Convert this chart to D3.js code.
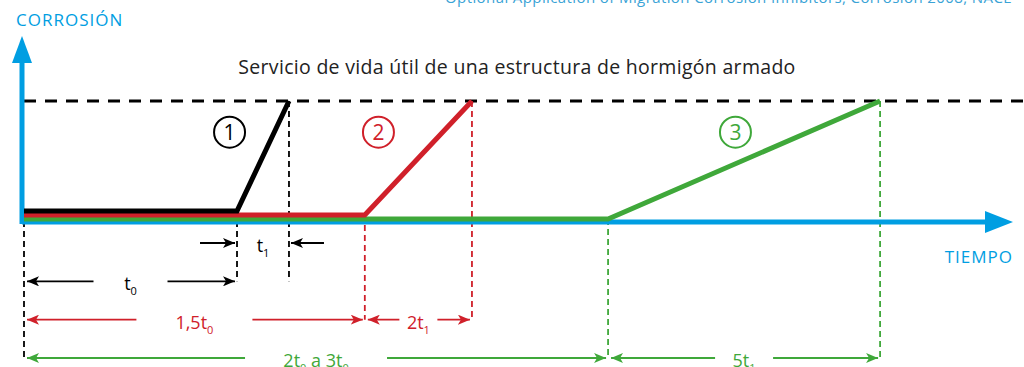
<!DOCTYPE html>
<html>
<head>
<meta charset="utf-8">
<script src="https://cdn.jsdelivr.net/npm/d3@7"></script>
<style>
  body { margin: 0; background: #fff; }
  svg { display: block; font-family: "Open Sans", "Noto Sans", sans-serif; }
</style>
</head>
<body>
<div id="chart"></div>
<script>
// data (time in arbitrary units, t0 = 10)
let seriesNames = ["1", "2", "3"];
let seriesColors = ["#000000", "#d0202a", "#3fa83a"];
let onsetTimes = [10, 16, 27.42];      // corrosion starts
let limitTimes = [12.44, 21.03, 40.19]; // corrosion reaches limit
let badgeTimes = [9.65, 16.64, 33.4];
let badgeLevel = 0.74;
let limitLevel = 1;

// dimension annotations
let dimFrom = [10, 0, 0, 16, 0, 27.42];
let dimTo = [12.44, 10, 16, 21.03, 27.42, 40.19];
let dimLabels = [["t", "1"], ["t", "0"], ["1,5t", "0"], ["2t", "1"], ["2t", "0", " a 3t", "0"], ["5t", "1"]];
let dimRow = [0, 1, 2, 2, 3, 3];
let dimColor = [0, 0, 1, 1, 2, 2];
let dimGap = [0, 37, 58, 19, 71, 29];

let titleText = "Servicio de vida útil de una estructura de hormigón armado";
let sourceText = "Optional Application of Migration Corrosion Inhibitors, Corrosion 2008, NACE";

let blue = "#009ee2";
let w = 1024, h = 367;

let svg = d3.select("#chart").append("svg")
  .attr("width", w)
  .attr("height", h)
  .attr("viewBox", "0 0 " + w + " " + h);

let x = d3.scaleLinear().domain([0, 46.43]).range([24, 1013]);
let y = d3.scaleLinear().domain([0, 1]).range([221, 101]);
let rowY = d3.scaleLinear().domain([0, 3]).range([243, 358]);

// stacking offsets for the flat part of each line
let flatOffset = [10, 6, 2];

// arrow markers
let defs = svg.append("defs");
seriesColors.forEach((c, i) => {
  defs.append("marker")
    .attr("id", "arr" + i)
    .attr("viewBox", "0 0 12 10")
    .attr("refX", 12)
    .attr("refY", 5)
    .attr("markerWidth", 12)
    .attr("markerHeight", 10)
    .attr("markerUnits", "userSpaceOnUse")
    .attr("orient", "auto")
    .append("path")
    .attr("d", "M0,0 L12,5 L0,10 L3,5 Z")
    .attr("fill", c);
});

// source + labels
svg.append("text")
  .attr("x", 1012).attr("y", 3)
  .attr("text-anchor", "end")
  .style("font-size", "15px")
  .style("letter-spacing", "0.4px")
  .style("fill", "#3aa3d6")
  .text(sourceText);

svg.append("text")
  .attr("x", 16).attr("y", 26)
  .style("font-size", "17px")
  .style("letter-spacing", "1px")
  .style("fill", blue)
  .text("CORROSIÓN");

svg.append("text")
  .attr("x", 517).attr("y", 74)
  .attr("text-anchor", "middle")
  .style("font-size", "19.5px")
  .style("letter-spacing", "0.3px")
  .style("fill", "#222")
  .text(titleText);

svg.append("text")
  .attr("x", 1013).attr("y", 263)
  .attr("text-anchor", "end")
  .style("font-size", "17px")
  .style("letter-spacing", "1px")
  .style("fill", blue)
  .text("TIEMPO");

// limit line
svg.append("line")
  .attr("x1", x(0)).attr("x2", w)
  .attr("y1", y(limitLevel)).attr("y2", y(limitLevel))
  .attr("stroke", "#000")
  .attr("stroke-width", 3)
  .attr("stroke-dasharray", "12,9");

// vertical guide lines
let guides = [{t: 0, v: 0, row: 3, c: 0}];
onsetTimes.forEach((t, i) => guides.push({t: t, v: 0, row: i + 1, c: i, off: flatOffset[i]}));
limitTimes.forEach((t, i) => guides.push({t: t, v: limitLevel, row: i + 1, c: i}));
svg.append("g").selectAll("line").data(guides).join("line")
  .attr("x1", d => x(d.t)).attr("x2", d => x(d.t))
  .attr("y1", d => y(d.v) - (d.off || 0))
  .attr("y2", d => rowY(d.row))
  .attr("stroke", d => seriesColors[d.c])
  .attr("stroke-width", 1.8)
  .attr("stroke-dasharray", "6,4");

// axes
svg.append("line")
  .attr("x1", 22).attr("x2", 987)
  .attr("y1", 222).attr("y2", 222)
  .attr("stroke", blue).attr("stroke-width", 5);
svg.append("path")
  .attr("d", "M985,211 L1013,222 L985,233 Z")
  .attr("fill", blue);
svg.append("line")
  .attr("x1", 22).attr("x2", 22)
  .attr("y1", 224).attr("y2", 60)
  .attr("stroke", blue).attr("stroke-width", 5);
svg.append("path")
  .attr("d", "M12,63 L22,36 L32,63 Z")
  .attr("fill", blue);

// series lines (drawn bottom-most first)
let line = d3.line().x(d => x(d.t)).y(d => y(d.v) - d.off * (1 - d.v));
d3.range(seriesNames.length).reverse().forEach(i => {
  let pts = [
    {t: 0, v: 0, off: flatOffset[i]},
    {t: onsetTimes[i], v: 0, off: flatOffset[i]},
    {t: limitTimes[i], v: limitLevel, off: flatOffset[i]}
  ];
  svg.append("path")
    .datum(pts)
    .attr("d", line)
    .attr("fill", "none")
    .attr("stroke", seriesColors[i])
    .attr("stroke-width", 5)
    .attr("stroke-linejoin", "miter");
});

// circled numbers
let badges = svg.append("g").selectAll("g").data(seriesNames).join("g")
  .attr("transform", (d, i) => "translate(" + x(badgeTimes[i]) + "," + y(badgeLevel) + ")");
badges.append("circle")
  .attr("r", 15.5)
  .attr("fill", "none")
  .attr("stroke", (d, i) => seriesColors[i])
  .attr("stroke-width", 2);
badges.append("text")
  .attr("text-anchor", "middle")
  .attr("dy", "0.36em")
  .style("font-size", "21px")
  .style("fill", (d, i) => seriesColors[i])
  .text(d => d);

// dimension arrows
let dims = svg.append("g");
dimFrom.forEach((f, i) => {
  let c = seriesColors[dimColor[i]];
  let yy = rowY(dimRow[i]);
  let x0 = x(f), x1 = x(dimTo[i]);
  let cx = (x0 + x1) / 2;
  let segs;
  if (dimGap[i] === 0) {
    // arrows from outside pointing in
    segs = [[x0 - 37, x0 - 2], [x1 + 35, x1 + 2]];
  } else {
    segs = [[cx - dimGap[i], x0 + 3], [cx + dimGap[i], x1 - 2]];
  }
  segs.forEach(s => {
    dims.append("line")
      .attr("x1", s[0]).attr("x2", s[1])
      .attr("y1", yy).attr("y2", yy)
      .attr("stroke", c)
      .attr("stroke-width", 1.8)
      .attr("marker-end", "url(#arr" + dimColor[i] + ")");
  });
  let txt = dims.append("text")
    .attr("x", cx).attr("y", yy + 9)
    .attr("text-anchor", "middle")
    .style("font-size", "18px")
    .style("fill", c);
  dimLabels[i].forEach((p, k) => {
    let sub = k % 2 === 1;
    txt.append("tspan")
      .attr("dy", sub ? 5 : (k > 0 ? -5 : 0))
      .style("font-size", sub ? "11px" : "18px")
      .text(p);
  });
});
</script>
</body>
</html>
